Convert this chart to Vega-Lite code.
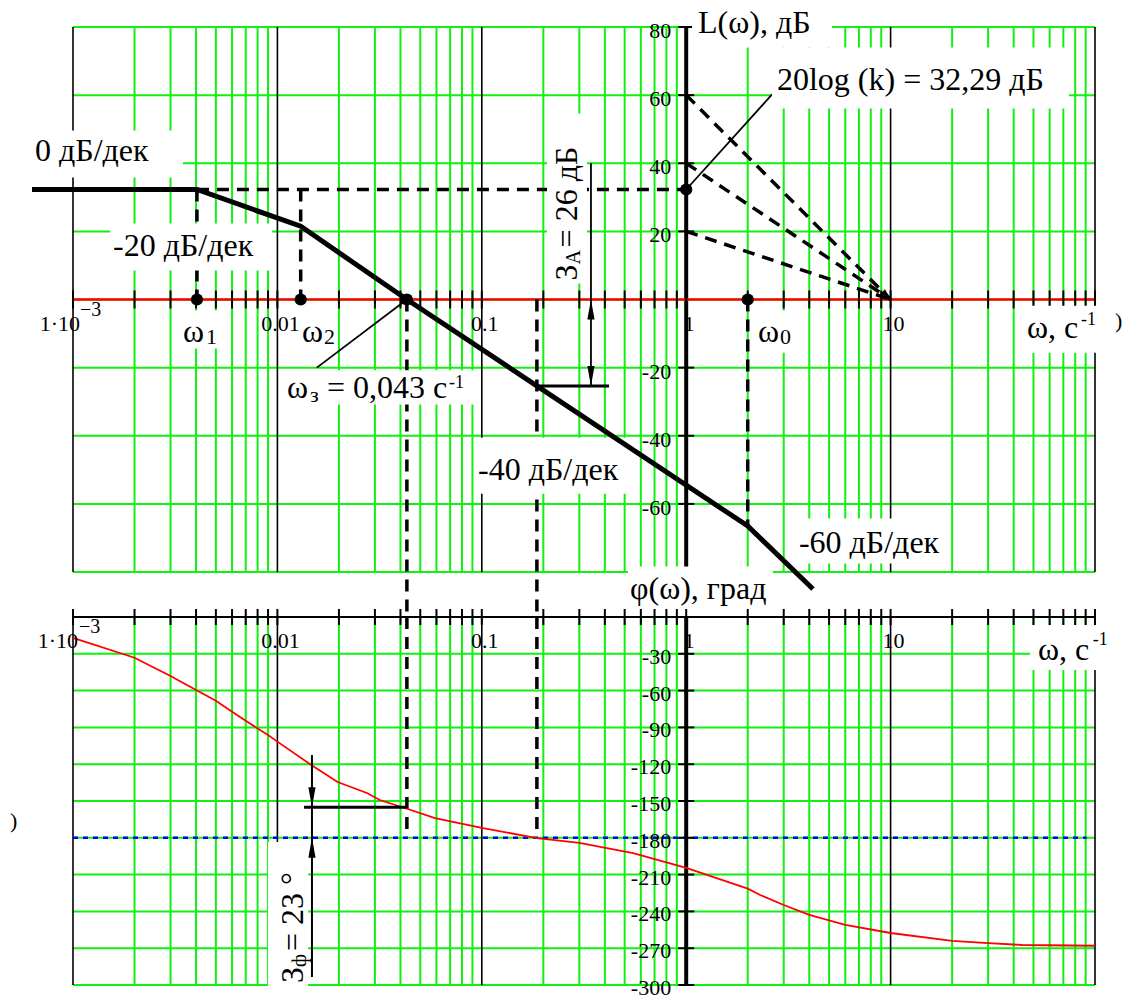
{
  "$schema": "https://vega.github.io/schema/vega-lite/v6.json",
  "width": 1022,
  "height": 958,
  "autosize": {"type": "none"},
  "padding": {"left": 73, "top": 27, "right": 28, "bottom": 11},
  "background": "white",
  "config": {"view": {"stroke": null}, "text": {"font": "Liberation Serif", "color": "black"}},
  "datasets": {
    "gridW": [
      {"w": 0.001, "k": 1}, {"w": 0.002, "k": 2}, {"w": 0.003, "k": 3}, {"w": 0.004, "k": 4}, {"w": 0.005, "k": 5}, {"w": 0.006, "k": 6}, {"w": 0.007, "k": 7}, {"w": 0.008, "k": 8}, {"w": 0.009, "k": 9},
      {"w": 0.01, "k": 1}, {"w": 0.02, "k": 2}, {"w": 0.03, "k": 3}, {"w": 0.04, "k": 4}, {"w": 0.05, "k": 5}, {"w": 0.06, "k": 6}, {"w": 0.07, "k": 7}, {"w": 0.08, "k": 8}, {"w": 0.09, "k": 9},
      {"w": 0.1, "k": 1}, {"w": 0.2, "k": 2}, {"w": 0.3, "k": 3}, {"w": 0.4, "k": 4}, {"w": 0.5, "k": 5}, {"w": 0.6, "k": 6}, {"w": 0.7, "k": 7}, {"w": 0.8, "k": 8}, {"w": 0.9, "k": 9},
      {"w": 1, "k": 1}, {"w": 2, "k": 2}, {"w": 3, "k": 3}, {"w": 4, "k": 4}, {"w": 5, "k": 5}, {"w": 6, "k": 6}, {"w": 7, "k": 7}, {"w": 8, "k": 8}, {"w": 9, "k": 9},
      {"w": 10, "k": 1}, {"w": 20, "k": 2}, {"w": 30, "k": 3}, {"w": 40, "k": 4}, {"w": 50, "k": 5}, {"w": 60, "k": 6}, {"w": 70, "k": 7}, {"w": 80, "k": 8}, {"w": 90, "k": 9},
      {"w": 100, "k": 1}
    ],
    "magGrid": [{"L": -80}, {"L": -60}, {"L": -40}, {"L": -20}, {"L": 0}, {"L": 20}, {"L": 40}, {"L": 60}, {"L": 80}],
    "magLabels": [{"L": 80, "t": "80"}, {"L": 60, "t": "60"}, {"L": 40, "t": "40"}, {"L": 20, "t": "20"}, {"L": -20, "t": "-20"}, {"L": -40, "t": "-40"}, {"L": -60, "t": "-60"}],
    "phGrid": [{"p": -30, "t": "-30"}, {"p": -60, "t": "-60"}, {"p": -90, "t": "-90"}, {"p": -120, "t": "-120"}, {"p": -150, "t": "-150"}, {"p": -180, "t": "-180"}, {"p": -210, "t": "-210"}, {"p": -240, "t": "-240"}, {"p": -270, "t": "-270"}, {"p": -300, "t": "-300"}],
    "wLabels": [{"w": 0.01, "t": "0.01"}, {"w": 0.1, "t": "0.1"}, {"w": 1, "t": "1"}, {"w": 10, "t": "10"}],
    "wFirst": [{"w": 0.001, "t": "1·10", "exp": "−3"}],
    "lafc": [
      {"w": 0.00063, "L": 32.29}, {"w": 0.00404, "L": 32.29}, {"w": 0.013, "L": 21.5},
      {"w": 0.043, "L": 0}, {"w": 2.0, "L": -66.5}, {"w": 4.17, "L": -85}
    ],
    "guidesTop": [
      {"w1": 0.00404, "L1": 32.29, "w2": 1, "L2": 32.29},
      {"w1": 0.00404, "L1": 32.29, "w2": 0.00404, "L2": 0},
      {"w1": 0.013, "L1": 32.29, "w2": 0.013, "L2": 0},
      {"w1": 1, "L1": 60, "w2": 10, "L2": 0},
      {"w1": 1, "L1": 40, "w2": 10, "L2": 0},
      {"w1": 1, "L1": 20, "w2": 10, "L2": 0},
      {"w1": 0.043, "L1": 0, "w2": 0.043, "L2": -93.2},
      {"w1": 0.186, "L1": 0, "w2": 0.186, "L2": -93.2},
      {"w1": 2.0, "L1": 0, "w2": 2.0, "L2": -66.5}
    ],
    "leadersTop": [
      {"w1": 1, "L1": 32.29, "w2": 2.63, "L2": 60.2},
      {"w1": 0.0156, "L1": -20, "w2": 0.043, "L2": 0},
      {"w1": 0.342, "L1": 40, "w2": 0.342, "L2": -25.4}
    ],
    "marginTop": [{"w1": 0.186, "L1": -25.4, "w2": 0.419, "L2": -25.4}],
    "dotsTop": [{"w": 0.00404, "L": 0}, {"w": 0.013, "L": 0}, {"w": 0.043, "L": 0}, {"w": 2.0, "L": 0}, {"w": 1, "L": 32.29}],
    "arrowsTop": [{"w": 0.342, "L": 0, "dir": "up"}, {"w": 0.342, "L": -25.4, "dir": "down"}, {"w": 10, "L": 0, "dir": "in"}],
    "boxesTop": [
      {"w1": 0.0005, "w2": 0.00345, "L1": 49.6, "L2": 35.8},
      {"w1": 0.00152, "w2": 0.0094, "L1": 22.3, "L2": 8.5},
      {"w1": 1.068, "w2": 5.17, "L1": 88, "L2": 74.0},
      {"w1": 2.63, "w2": 74.6, "L1": 74.0, "L2": 56.1},
      {"w1": 0.2084, "w2": 0.327, "L1": 54.6, "L2": 4.7},
      {"w1": 0.00334, "w2": 0.00524, "L1": -3.2, "L2": -14.4},
      {"w1": 0.01077, "w2": 0.0916, "L1": -20.8, "L2": -30.8},
      {"w1": 0.0947, "w2": 0.513, "L1": -40.6, "L2": -57.0},
      {"w1": 3.41, "w2": 18.45, "L1": -64.3, "L2": -77.5},
      {"w1": 0.519, "w2": 2.66, "L1": -78.4, "L2": -90.4},
      {"w1": 2.17, "w2": 3.29, "L1": -3.2, "L2": -15.6},
      {"w1": 43.95, "w2": 110, "L1": -1.8, "L2": -15.6}
    ],
    "notesTop": [
      {"w": 0.000652, "L": 40.8, "t": "0 дБ/дек", "role": "main"},
      {"w": 0.00157, "L": 12.9, "t": "-20 дБ/дек", "role": "main"},
      {"w": 1.142, "L": 78.2, "t": "L(ω), дБ", "role": "main"},
      {"w": 2.78, "L": 61.4, "t": "20log (k) = 32,29 дБ", "role": "main"},
      {"w": 0.01113, "L": -28.8, "t": "ω", "role": "main"},
      {"w": 0.01443, "L": -30.2, "t": "з", "role": "sub"},
      {"w": 0.01749, "L": -28.8, "t": "= 0,043 с", "role": "main"},
      {"w": 0.0691, "L": -26.1, "t": "-1", "role": "sup"},
      {"w": 0.0958, "L": -53.1, "t": "-40 дБ/дек", "role": "main"},
      {"w": 3.56, "L": -74.3, "t": "-60 дБ/дек", "role": "main"},
      {"w": 0.531, "L": -87.8, "t": "φ(ω), град", "role": "main"},
      {"w": 0.00345, "L": -12.6, "t": "ω", "role": "main"},
      {"w": 0.00447, "L": -13.2, "t": "1", "role": "sub"},
      {"w": 0.0132, "L": -12.6, "t": "ω", "role": "main"},
      {"w": 0.0169, "L": -13.2, "t": "2", "role": "sub"},
      {"w": 2.245, "L": -12.6, "t": "ω", "role": "main"},
      {"w": 2.88, "L": -13.2, "t": "0", "role": "sub"},
      {"w": 46.5, "L": -11.2, "t": "ω, с", "role": "main"},
      {"w": 85.4, "L": -7.6, "t": "-1", "role": "sup"},
      {"w": 125.3, "L": -8.5, "t": ")", "role": "paren"}
    ],
    "rotTop": [
      {"w": 0.292, "L": 5.6, "t": "З", "role": "main"},
      {"w": 0.292, "L": 10.3, "t": "А", "role": "sub"},
      {"w": 0.292, "L": 15.3, "t": "= 26 дБ", "role": "main"}
    ],
    "phase": [
      {"w": 0.001, "p": -17.1}, {"w": 0.002, "p": -33.2}, {"w": 0.003, "p": -48.1}, {"w": 0.004, "p": -59.5},
      {"w": 0.005, "p": -68.2}, {"w": 0.006, "p": -77.2}, {"w": 0.007, "p": -84.5}, {"w": 0.008, "p": -90.8},
      {"w": 0.009, "p": -96.2}, {"w": 0.01, "p": -101.6}, {"w": 0.0144, "p": -119.8}, {"w": 0.0197, "p": -134.5},
      {"w": 0.0274, "p": -143.5}, {"w": 0.0317, "p": -149.2}, {"w": 0.042, "p": -155.7}, {"w": 0.059, "p": -163.9},
      {"w": 0.1, "p": -172}, {"w": 0.186, "p": -180.2}, {"w": 0.3, "p": -184.2}, {"w": 0.55, "p": -192.4},
      {"w": 1, "p": -204.6}, {"w": 2, "p": -221.5}, {"w": 2.3, "p": -226.6}, {"w": 3, "p": -234.8},
      {"w": 4, "p": -242.9}, {"w": 6, "p": -251}, {"w": 10, "p": -257.6}, {"w": 20, "p": -264},
      {"w": 30, "p": -265.8}, {"w": 44, "p": -267.4}, {"w": 100, "p": -268}
    ],
    "guidesBot": [{"w1": 0.043, "p1": 0, "w2": 0.043, "p2": -177}, {"w1": 0.186, "p1": 0, "w2": 0.186, "p2": -178}],
    "leadersBot": [{"w1": 0.01476, "p1": -112.5, "w2": 0.01476, "p2": -293.5}],
    "marginBot": [{"w1": 0.01349, "p1": -155, "w2": 0.043, "p2": -155}],
    "arrowsBot": [{"w": 0.01476, "p": -155, "dir": "down"}, {"w": 0.01476, "p": -180, "dir": "up"}],
    "boxesBot": [
      {"w1": 0.009, "w2": 0.01412, "p1": -183.4, "p2": -310},
      {"w1": 48.1, "w2": 110, "p1": -6.5, "p2": -43.2}
    ],
    "notesBot": [
      {"w": 52.6, "p": -35.1, "t": "ω, с", "role": "main"},
      {"w": 97.5, "p": -22.8, "t": "-1", "role": "sup"},
      {"w": 0.000492, "p": -172, "t": ")", "role": "paren"}
    ],
    "rotBot": [
      {"w": 0.01334, "p": -298.4, "t": "З", "role": "main"},
      {"w": 0.01334, "p": -285.3, "t": "ф", "role": "sub"},
      {"w": 0.01334, "p": -272.3, "t": "= 23 °", "role": "main"}
    ]
  },
  "layer": [
    {
      "layer": [
        {
          "data": {"name": "gridW"},
          "transform": [{"filter": "datum.k != 1"}],
          "mark": {"type": "rule", "color": "#12f012", "strokeWidth": 2},
          "encoding": {
            "x": {"field": "w", "type": "quantitative", "scale": {"type": "log", "domain": [0.001, 100], "nice": false}, "axis": null},
            "y": {"datum": 80, "type": "quantitative", "scale": {"domain": [-80, 80], "range": [545, 0], "nice": false, "zero": false}, "axis": null},
            "y2": {"datum": -80}
          }
        },
        {
          "data": {"name": "magGrid"},
          "mark": {"type": "rule", "color": "#12f012", "strokeWidth": 2},
          "encoding": {
            "x": {"datum": 0.001, "type": "quantitative", "scale": {"type": "log", "domain": [0.001, 100], "nice": false}, "axis": null},
            "x2": {"datum": 100},
            "y": {"field": "L", "type": "quantitative", "scale": {"domain": [-80, 80], "range": [545, 0], "nice": false, "zero": false}, "axis": null}
          }
        },
        {
          "data": {"name": "gridW"},
          "transform": [{"filter": "datum.k == 1 && datum.w != 1"}],
          "mark": {"type": "rule", "color": "black", "strokeWidth": 1.6},
          "encoding": {
            "x": {"field": "w", "type": "quantitative", "scale": {"type": "log", "domain": [0.001, 100], "nice": false}, "axis": null},
            "y": {"datum": 80, "type": "quantitative", "scale": {"domain": [-80, 80], "range": [545, 0], "nice": false, "zero": false}, "axis": null},
            "y2": {"datum": -80}
          }
        },
        {
          "data": {"values": [{"w": 1}]},
          "mark": {"type": "rule", "color": "black", "strokeWidth": 4},
          "encoding": {
            "x": {"field": "w", "type": "quantitative", "scale": {"type": "log", "domain": [0.001, 100], "nice": false}, "axis": null},
            "y": {"datum": 80, "type": "quantitative", "scale": {"domain": [-80, 80], "range": [545, 0], "nice": false, "zero": false}, "axis": null},
            "y2": {"datum": -80}
          }
        },
        {
          "data": {"values": [{"L": 0}]},
          "mark": {"type": "rule", "color": "#ff0000", "strokeWidth": 2.5},
          "encoding": {
            "x": {"datum": 0.001, "type": "quantitative", "scale": {"type": "log", "domain": [0.001, 100], "nice": false}, "axis": null},
            "x2": {"datum": 100},
            "y": {"field": "L", "type": "quantitative", "scale": {"domain": [-80, 80], "range": [545, 0], "nice": false, "zero": false}, "axis": null}
          }
        },
        {
          "data": {"name": "gridW"},
          "mark": {"type": "tick", "orient": "vertical", "size": 18, "thickness": 2, "color": "black", "opacity": 1},
          "encoding": {
            "x": {"field": "w", "type": "quantitative", "scale": {"type": "log", "domain": [0.001, 100], "nice": false}, "axis": null},
            "y": {"datum": 0, "type": "quantitative", "scale": {"domain": [-80, 80], "range": [545, 0], "nice": false, "zero": false}, "axis": null}
          }
        },
        {
          "data": {"name": "magGrid"},
          "transform": [{"filter": "datum.L != 0"}],
          "mark": {"type": "tick", "orient": "horizontal", "size": 16, "thickness": 2, "color": "black", "opacity": 1},
          "encoding": {
            "x": {"datum": 1, "type": "quantitative", "scale": {"type": "log", "domain": [0.001, 100], "nice": false}, "axis": null},
            "y": {"field": "L", "type": "quantitative", "scale": {"domain": [-80, 80], "range": [545, 0], "nice": false, "zero": false}, "axis": null}
          }
        },
        {
          "data": {"name": "guidesTop"},
          "mark": {"type": "rule", "color": "black", "strokeWidth": 3.5, "strokeDash": [12, 8], "clip": false},
          "encoding": {
            "x": {"field": "w1", "type": "quantitative", "scale": {"type": "log", "domain": [0.001, 100], "nice": false}, "axis": null},
            "x2": {"field": "w2"},
            "y": {"field": "L1", "type": "quantitative", "scale": {"domain": [-80, 80], "range": [545, 0], "nice": false, "zero": false}, "axis": null},
            "y2": {"field": "L2"}
          }
        },
        {
          "data": {"name": "leadersTop"},
          "mark": {"type": "rule", "color": "black", "strokeWidth": 1.8},
          "encoding": {
            "x": {"field": "w1", "type": "quantitative", "scale": {"type": "log", "domain": [0.001, 100], "nice": false}, "axis": null},
            "x2": {"field": "w2"},
            "y": {"field": "L1", "type": "quantitative", "scale": {"domain": [-80, 80], "range": [545, 0], "nice": false, "zero": false}, "axis": null},
            "y2": {"field": "L2"}
          }
        },
        {
          "data": {"name": "marginTop"},
          "mark": {"type": "rule", "color": "black", "strokeWidth": 3},
          "encoding": {
            "x": {"field": "w1", "type": "quantitative", "scale": {"type": "log", "domain": [0.001, 100], "nice": false}, "axis": null},
            "x2": {"field": "w2"},
            "y": {"field": "L1", "type": "quantitative", "scale": {"domain": [-80, 80], "range": [545, 0], "nice": false, "zero": false}, "axis": null},
            "y2": {"field": "L2"}
          }
        },
        {
          "data": {"name": "boxesTop"},
          "mark": {"type": "rect", "fill": "white", "clip": false},
          "encoding": {
            "x": {"field": "w1", "type": "quantitative", "scale": {"type": "log", "domain": [0.001, 100], "nice": false}, "axis": null},
            "x2": {"field": "w2"},
            "y": {"field": "L1", "type": "quantitative", "scale": {"domain": [-80, 80], "range": [545, 0], "nice": false, "zero": false}, "axis": null},
            "y2": {"field": "L2"}
          }
        },
        {
          "data": {"name": "lafc"},
          "mark": {"type": "line", "color": "black", "strokeWidth": 5, "strokeJoin": "miter", "clip": false},
          "encoding": {
            "x": {"field": "w", "type": "quantitative", "scale": {"type": "log", "domain": [0.001, 100], "nice": false}, "axis": null},
            "y": {"field": "L", "type": "quantitative", "scale": {"domain": [-80, 80], "range": [545, 0], "nice": false, "zero": false}, "axis": null}
          }
        },
        {
          "data": {"name": "dotsTop"},
          "mark": {"type": "point", "shape": "circle", "filled": true, "size": 150, "color": "black", "opacity": 1},
          "encoding": {
            "x": {"field": "w", "type": "quantitative", "scale": {"type": "log", "domain": [0.001, 100], "nice": false}, "axis": null},
            "y": {"field": "L", "type": "quantitative", "scale": {"domain": [-80, 80], "range": [545, 0], "nice": false, "zero": false}, "axis": null}
          }
        },
        {
          "data": {"name": "arrowsTop"},
          "transform": [{"filter": "datum.dir == 'up'"}],
          "mark": {"type": "point", "shape": "M0,0L-0.18,1L0.18,1Z", "filled": true, "size": 1600, "color": "black", "opacity": 1},
          "encoding": {
            "x": {"field": "w", "type": "quantitative", "scale": {"type": "log", "domain": [0.001, 100], "nice": false}, "axis": null},
            "y": {"field": "L", "type": "quantitative", "scale": {"domain": [-80, 80], "range": [545, 0], "nice": false, "zero": false}, "axis": null}
          }
        },
        {
          "data": {"name": "arrowsTop"},
          "transform": [{"filter": "datum.dir == 'down'"}],
          "mark": {"type": "point", "shape": "M0,0L-0.18,-1L0.18,-1Z", "filled": true, "size": 1600, "color": "black", "opacity": 1},
          "encoding": {
            "x": {"field": "w", "type": "quantitative", "scale": {"type": "log", "domain": [0.001, 100], "nice": false}, "axis": null},
            "y": {"field": "L", "type": "quantitative", "scale": {"domain": [-80, 80], "range": [545, 0], "nice": false, "zero": false}, "axis": null}
          }
        },
        {
          "data": {"name": "arrowsTop"},
          "transform": [{"filter": "datum.dir == 'in'"}],
          "mark": {"type": "point", "shape": "M0,0L-0.3,1L0.3,1Z", "filled": true, "size": 500, "angle": 135, "color": "black", "opacity": 1},
          "encoding": {
            "x": {"field": "w", "type": "quantitative", "scale": {"type": "log", "domain": [0.001, 100], "nice": false}, "axis": null},
            "y": {"field": "L", "type": "quantitative", "scale": {"domain": [-80, 80], "range": [545, 0], "nice": false, "zero": false}, "axis": null}
          }
        },
        {
          "data": {"name": "notesTop"},
          "transform": [{"filter": "datum.role == 'main'"}],
          "mark": {"type": "text", "font": "Liberation Serif", "fontSize": 32, "align": "left", "baseline": "alphabetic"},
          "encoding": {
            "x": {"field": "w", "type": "quantitative", "scale": {"type": "log", "domain": [0.001, 100], "nice": false}, "axis": null},
            "y": {"field": "L", "type": "quantitative", "scale": {"domain": [-80, 80], "range": [545, 0], "nice": false, "zero": false}, "axis": null},
            "text": {"field": "t"}
          }
        },
        {
          "data": {"name": "notesTop"},
          "transform": [{"filter": "datum.role == 'sub'"}],
          "mark": {"type": "text", "font": "Liberation Serif", "fontSize": 22, "align": "left", "baseline": "alphabetic"},
          "encoding": {
            "x": {"field": "w", "type": "quantitative", "scale": {"type": "log", "domain": [0.001, 100], "nice": false}, "axis": null},
            "y": {"field": "L", "type": "quantitative", "scale": {"domain": [-80, 80], "range": [545, 0], "nice": false, "zero": false}, "axis": null},
            "text": {"field": "t"}
          }
        },
        {
          "data": {"name": "notesTop"},
          "transform": [{"filter": "datum.role == 'sup'"}],
          "mark": {"type": "text", "font": "Liberation Serif", "fontSize": 18, "align": "left", "baseline": "alphabetic"},
          "encoding": {
            "x": {"field": "w", "type": "quantitative", "scale": {"type": "log", "domain": [0.001, 100], "nice": false}, "axis": null},
            "y": {"field": "L", "type": "quantitative", "scale": {"domain": [-80, 80], "range": [545, 0], "nice": false, "zero": false}, "axis": null},
            "text": {"field": "t"}
          }
        },
        {
          "data": {"name": "notesTop"},
          "transform": [{"filter": "datum.role == 'paren'"}],
          "mark": {"type": "text", "font": "Liberation Serif", "fontSize": 22, "align": "left", "baseline": "alphabetic"},
          "encoding": {
            "x": {"field": "w", "type": "quantitative", "scale": {"type": "log", "domain": [0.001, 100], "nice": false}, "axis": null},
            "y": {"field": "L", "type": "quantitative", "scale": {"domain": [-80, 80], "range": [545, 0], "nice": false, "zero": false}, "axis": null},
            "text": {"field": "t"}
          }
        },
        {
          "data": {"name": "rotTop"},
          "transform": [{"filter": "datum.role == 'main'"}],
          "mark": {"type": "text", "font": "Liberation Serif", "fontSize": 32, "angle": 270, "align": "left", "baseline": "alphabetic"},
          "encoding": {
            "x": {"field": "w", "type": "quantitative", "scale": {"type": "log", "domain": [0.001, 100], "nice": false}, "axis": null},
            "y": {"field": "L", "type": "quantitative", "scale": {"domain": [-80, 80], "range": [545, 0], "nice": false, "zero": false}, "axis": null},
            "text": {"field": "t"}
          }
        },
        {
          "data": {"name": "rotTop"},
          "transform": [{"filter": "datum.role == 'sub'"}],
          "mark": {"type": "text", "font": "Liberation Serif", "fontSize": 20, "angle": 270, "align": "left", "baseline": "alphabetic", "dy": 3},
          "encoding": {
            "x": {"field": "w", "type": "quantitative", "scale": {"type": "log", "domain": [0.001, 100], "nice": false}, "axis": null},
            "y": {"field": "L", "type": "quantitative", "scale": {"domain": [-80, 80], "range": [545, 0], "nice": false, "zero": false}, "axis": null},
            "text": {"field": "t"}
          }
        },
        {
          "data": {"name": "wLabels"},
          "mark": {"type": "text", "font": "Liberation Serif", "fontSize": 22, "align": "center", "baseline": "alphabetic", "dx": 3, "dy": 31},
          "encoding": {
            "x": {"field": "w", "type": "quantitative", "scale": {"type": "log", "domain": [0.001, 100], "nice": false}, "axis": null},
            "y": {"datum": 0, "type": "quantitative", "scale": {"domain": [-80, 80], "range": [545, 0], "nice": false, "zero": false}, "axis": null},
            "text": {"field": "t"}
          }
        },
        {
          "data": {"name": "wFirst"},
          "mark": {"type": "text", "font": "Liberation Serif", "fontSize": 22, "align": "right", "baseline": "alphabetic", "dx": 7, "dy": 31},
          "encoding": {
            "x": {"field": "w", "type": "quantitative", "scale": {"type": "log", "domain": [0.001, 100], "nice": false}, "axis": null},
            "y": {"datum": 0, "type": "quantitative", "scale": {"domain": [-80, 80], "range": [545, 0], "nice": false, "zero": false}, "axis": null},
            "text": {"field": "t"}
          }
        },
        {
          "data": {"name": "wFirst"},
          "mark": {"type": "text", "font": "Liberation Serif", "fontSize": 20, "align": "left", "baseline": "alphabetic", "dx": 7, "dy": 16},
          "encoding": {
            "x": {"field": "w", "type": "quantitative", "scale": {"type": "log", "domain": [0.001, 100], "nice": false}, "axis": null},
            "y": {"datum": 0, "type": "quantitative", "scale": {"domain": [-80, 80], "range": [545, 0], "nice": false, "zero": false}, "axis": null},
            "text": {"field": "exp"}
          }
        },
        {
          "data": {"name": "magLabels"},
          "mark": {"type": "text", "font": "Liberation Serif", "fontSize": 22, "align": "right", "baseline": "alphabetic", "dx": -15, "dy": 11},
          "encoding": {
            "x": {"datum": 1, "type": "quantitative", "scale": {"type": "log", "domain": [0.001, 100], "nice": false}, "axis": null},
            "y": {"field": "L", "type": "quantitative", "scale": {"domain": [-80, 80], "range": [545, 0], "nice": false, "zero": false}, "axis": null},
            "text": {"field": "t"}
          }
        }
      ]
    },
    {
      "layer": [
        {
          "data": {"name": "gridW"},
          "transform": [{"filter": "datum.k != 1"}],
          "mark": {"type": "rule", "color": "#12f012", "strokeWidth": 2},
          "encoding": {
            "x": {"field": "w", "type": "quantitative", "scale": {"type": "log", "domain": [0.001, 100], "nice": false}, "axis": null},
            "y": {"datum": 0, "type": "quantitative", "scale": {"domain": [-300, 0], "range": [958, 590], "nice": false, "zero": false}, "axis": null},
            "y2": {"datum": -300}
          }
        },
        {
          "data": {"name": "phGrid"},
          "mark": {"type": "rule", "color": "#12f012", "strokeWidth": 2},
          "encoding": {
            "x": {"datum": 0.001, "type": "quantitative", "scale": {"type": "log", "domain": [0.001, 100], "nice": false}, "axis": null},
            "x2": {"datum": 100},
            "y": {"field": "p", "type": "quantitative", "scale": {"domain": [-300, 0], "range": [958, 590], "nice": false, "zero": false}, "axis": null}
          }
        },
        {
          "data": {"name": "gridW"},
          "transform": [{"filter": "datum.k == 1 && datum.w != 1"}],
          "mark": {"type": "rule", "color": "black", "strokeWidth": 1.6},
          "encoding": {
            "x": {"field": "w", "type": "quantitative", "scale": {"type": "log", "domain": [0.001, 100], "nice": false}, "axis": null},
            "y": {"datum": 0, "type": "quantitative", "scale": {"domain": [-300, 0], "range": [958, 590], "nice": false, "zero": false}, "axis": null},
            "y2": {"datum": -300}
          }
        },
        {
          "data": {"values": [{"w": 1}]},
          "mark": {"type": "rule", "color": "black", "strokeWidth": 4},
          "encoding": {
            "x": {"field": "w", "type": "quantitative", "scale": {"type": "log", "domain": [0.001, 100], "nice": false}, "axis": null},
            "y": {"datum": 0, "type": "quantitative", "scale": {"domain": [-300, 0], "range": [958, 590], "nice": false, "zero": false}, "axis": null},
            "y2": {"datum": -300}
          }
        },
        {
          "data": {"values": [{"p": 0}]},
          "mark": {"type": "rule", "color": "black", "strokeWidth": 2},
          "encoding": {
            "x": {"datum": 0.001, "type": "quantitative", "scale": {"type": "log", "domain": [0.001, 100], "nice": false}, "axis": null},
            "x2": {"datum": 100},
            "y": {"field": "p", "type": "quantitative", "scale": {"domain": [-300, 0], "range": [958, 590], "nice": false, "zero": false}, "axis": null}
          }
        },
        {
          "data": {"values": [{"p": -180}]},
          "mark": {"type": "rule", "color": "#0000ff", "strokeWidth": 2.5, "strokeDash": [5, 5]},
          "encoding": {
            "x": {"datum": 0.001, "type": "quantitative", "scale": {"type": "log", "domain": [0.001, 100], "nice": false}, "axis": null},
            "x2": {"datum": 91},
            "y": {"field": "p", "type": "quantitative", "scale": {"domain": [-300, 0], "range": [958, 590], "nice": false, "zero": false}, "axis": null}
          }
        },
        {
          "data": {"name": "gridW"},
          "mark": {"type": "tick", "orient": "vertical", "size": 16, "thickness": 2, "color": "black", "opacity": 1},
          "encoding": {
            "x": {"field": "w", "type": "quantitative", "scale": {"type": "log", "domain": [0.001, 100], "nice": false}, "axis": null},
            "y": {"datum": 0, "type": "quantitative", "scale": {"domain": [-300, 0], "range": [958, 590], "nice": false, "zero": false}, "axis": null}
          }
        },
        {
          "data": {"name": "phGrid"},
          "mark": {"type": "tick", "orient": "horizontal", "size": 16, "thickness": 2, "color": "black", "opacity": 1},
          "encoding": {
            "x": {"datum": 1, "type": "quantitative", "scale": {"type": "log", "domain": [0.001, 100], "nice": false}, "axis": null},
            "y": {"field": "p", "type": "quantitative", "scale": {"domain": [-300, 0], "range": [958, 590], "nice": false, "zero": false}, "axis": null}
          }
        },
        {
          "data": {"name": "guidesBot"},
          "mark": {"type": "rule", "color": "black", "strokeWidth": 3.5, "strokeDash": [12, 8]},
          "encoding": {
            "x": {"field": "w1", "type": "quantitative", "scale": {"type": "log", "domain": [0.001, 100], "nice": false}, "axis": null},
            "x2": {"field": "w2"},
            "y": {"field": "p1", "type": "quantitative", "scale": {"domain": [-300, 0], "range": [958, 590], "nice": false, "zero": false}, "axis": null},
            "y2": {"field": "p2"}
          }
        },
        {
          "data": {"name": "phase"},
          "mark": {"type": "line", "color": "#ff0000", "strokeWidth": 1.8},
          "encoding": {
            "x": {"field": "w", "type": "quantitative", "scale": {"type": "log", "domain": [0.001, 100], "nice": false}, "axis": null},
            "y": {"field": "p", "type": "quantitative", "scale": {"domain": [-300, 0], "range": [958, 590], "nice": false, "zero": false}, "axis": null}
          }
        },
        {
          "data": {"name": "boxesBot"},
          "mark": {"type": "rect", "fill": "white", "clip": false},
          "encoding": {
            "x": {"field": "w1", "type": "quantitative", "scale": {"type": "log", "domain": [0.001, 100], "nice": false}, "axis": null},
            "x2": {"field": "w2"},
            "y": {"field": "p1", "type": "quantitative", "scale": {"domain": [-300, 0], "range": [958, 590], "nice": false, "zero": false}, "axis": null},
            "y2": {"field": "p2"}
          }
        },
        {
          "data": {"name": "leadersBot"},
          "mark": {"type": "rule", "color": "black", "strokeWidth": 2},
          "encoding": {
            "x": {"field": "w1", "type": "quantitative", "scale": {"type": "log", "domain": [0.001, 100], "nice": false}, "axis": null},
            "x2": {"field": "w2"},
            "y": {"field": "p1", "type": "quantitative", "scale": {"domain": [-300, 0], "range": [958, 590], "nice": false, "zero": false}, "axis": null},
            "y2": {"field": "p2"}
          }
        },
        {
          "data": {"name": "marginBot"},
          "mark": {"type": "rule", "color": "black", "strokeWidth": 3},
          "encoding": {
            "x": {"field": "w1", "type": "quantitative", "scale": {"type": "log", "domain": [0.001, 100], "nice": false}, "axis": null},
            "x2": {"field": "w2"},
            "y": {"field": "p1", "type": "quantitative", "scale": {"domain": [-300, 0], "range": [958, 590], "nice": false, "zero": false}, "axis": null},
            "y2": {"field": "p2"}
          }
        },
        {
          "data": {"name": "arrowsBot"},
          "transform": [{"filter": "datum.dir == 'up'"}],
          "mark": {"type": "point", "shape": "M0,0L-0.18,1L0.18,1Z", "filled": true, "size": 1600, "color": "black", "opacity": 1},
          "encoding": {
            "x": {"field": "w", "type": "quantitative", "scale": {"type": "log", "domain": [0.001, 100], "nice": false}, "axis": null},
            "y": {"field": "p", "type": "quantitative", "scale": {"domain": [-300, 0], "range": [958, 590], "nice": false, "zero": false}, "axis": null}
          }
        },
        {
          "data": {"name": "arrowsBot"},
          "transform": [{"filter": "datum.dir == 'down'"}],
          "mark": {"type": "point", "shape": "M0,0L-0.18,-1L0.18,-1Z", "filled": true, "size": 1600, "color": "black", "opacity": 1},
          "encoding": {
            "x": {"field": "w", "type": "quantitative", "scale": {"type": "log", "domain": [0.001, 100], "nice": false}, "axis": null},
            "y": {"field": "p", "type": "quantitative", "scale": {"domain": [-300, 0], "range": [958, 590], "nice": false, "zero": false}, "axis": null}
          }
        },
        {
          "data": {"name": "notesBot"},
          "transform": [{"filter": "datum.role == 'main'"}],
          "mark": {"type": "text", "font": "Liberation Serif", "fontSize": 32, "align": "left", "baseline": "alphabetic"},
          "encoding": {
            "x": {"field": "w", "type": "quantitative", "scale": {"type": "log", "domain": [0.001, 100], "nice": false}, "axis": null},
            "y": {"field": "p", "type": "quantitative", "scale": {"domain": [-300, 0], "range": [958, 590], "nice": false, "zero": false}, "axis": null},
            "text": {"field": "t"}
          }
        },
        {
          "data": {"name": "notesBot"},
          "transform": [{"filter": "datum.role == 'sup'"}],
          "mark": {"type": "text", "font": "Liberation Serif", "fontSize": 18, "align": "left", "baseline": "alphabetic"},
          "encoding": {
            "x": {"field": "w", "type": "quantitative", "scale": {"type": "log", "domain": [0.001, 100], "nice": false}, "axis": null},
            "y": {"field": "p", "type": "quantitative", "scale": {"domain": [-300, 0], "range": [958, 590], "nice": false, "zero": false}, "axis": null},
            "text": {"field": "t"}
          }
        },
        {
          "data": {"name": "notesBot"},
          "transform": [{"filter": "datum.role == 'paren'"}],
          "mark": {"type": "text", "font": "Liberation Serif", "fontSize": 22, "align": "left", "baseline": "alphabetic"},
          "encoding": {
            "x": {"field": "w", "type": "quantitative", "scale": {"type": "log", "domain": [0.001, 100], "nice": false}, "axis": null},
            "y": {"field": "p", "type": "quantitative", "scale": {"domain": [-300, 0], "range": [958, 590], "nice": false, "zero": false}, "axis": null},
            "text": {"field": "t"}
          }
        },
        {
          "data": {"name": "rotBot"},
          "transform": [{"filter": "datum.role == 'main'"}],
          "mark": {"type": "text", "font": "Liberation Serif", "fontSize": 32, "angle": 270, "align": "left", "baseline": "alphabetic"},
          "encoding": {
            "x": {"field": "w", "type": "quantitative", "scale": {"type": "log", "domain": [0.001, 100], "nice": false}, "axis": null},
            "y": {"field": "p", "type": "quantitative", "scale": {"domain": [-300, 0], "range": [958, 590], "nice": false, "zero": false}, "axis": null},
            "text": {"field": "t"}
          }
        },
        {
          "data": {"name": "rotBot"},
          "transform": [{"filter": "datum.role == 'sub'"}],
          "mark": {"type": "text", "font": "Liberation Serif", "fontSize": 20, "angle": 270, "align": "left", "baseline": "alphabetic", "dy": 3},
          "encoding": {
            "x": {"field": "w", "type": "quantitative", "scale": {"type": "log", "domain": [0.001, 100], "nice": false}, "axis": null},
            "y": {"field": "p", "type": "quantitative", "scale": {"domain": [-300, 0], "range": [958, 590], "nice": false, "zero": false}, "axis": null},
            "text": {"field": "t"}
          }
        },
        {
          "data": {"name": "wLabels"},
          "mark": {"type": "text", "font": "Liberation Serif", "fontSize": 22, "align": "center", "baseline": "alphabetic", "dx": 3, "dy": 31},
          "encoding": {
            "x": {"field": "w", "type": "quantitative", "scale": {"type": "log", "domain": [0.001, 100], "nice": false}, "axis": null},
            "y": {"datum": 0, "type": "quantitative", "scale": {"domain": [-300, 0], "range": [958, 590], "nice": false, "zero": false}, "axis": null},
            "text": {"field": "t"}
          }
        },
        {
          "data": {"name": "wFirst"},
          "mark": {"type": "text", "font": "Liberation Serif", "fontSize": 22, "align": "right", "baseline": "alphabetic", "dx": 5, "dy": 31},
          "encoding": {
            "x": {"field": "w", "type": "quantitative", "scale": {"type": "log", "domain": [0.001, 100], "nice": false}, "axis": null},
            "y": {"datum": 0, "type": "quantitative", "scale": {"domain": [-300, 0], "range": [958, 590], "nice": false, "zero": false}, "axis": null},
            "text": {"field": "t"}
          }
        },
        {
          "data": {"name": "wFirst"},
          "mark": {"type": "text", "font": "Liberation Serif", "fontSize": 20, "align": "left", "baseline": "alphabetic", "dx": 6, "dy": 16},
          "encoding": {
            "x": {"field": "w", "type": "quantitative", "scale": {"type": "log", "domain": [0.001, 100], "nice": false}, "axis": null},
            "y": {"datum": 0, "type": "quantitative", "scale": {"domain": [-300, 0], "range": [958, 590], "nice": false, "zero": false}, "axis": null},
            "text": {"field": "exp"}
          }
        },
        {
          "data": {"name": "phGrid"},
          "mark": {"type": "text", "font": "Liberation Serif", "fontSize": 22, "align": "right", "baseline": "alphabetic", "dx": -15, "dy": 10},
          "encoding": {
            "x": {"datum": 1, "type": "quantitative", "scale": {"type": "log", "domain": [0.001, 100], "nice": false}, "axis": null},
            "y": {"field": "p", "type": "quantitative", "scale": {"domain": [-300, 0], "range": [958, 590], "nice": false, "zero": false}, "axis": null},
            "text": {"field": "t"}
          }
        }
      ]
    }
  ],
  "resolve": {"scale": {"y": "independent"}}
}
